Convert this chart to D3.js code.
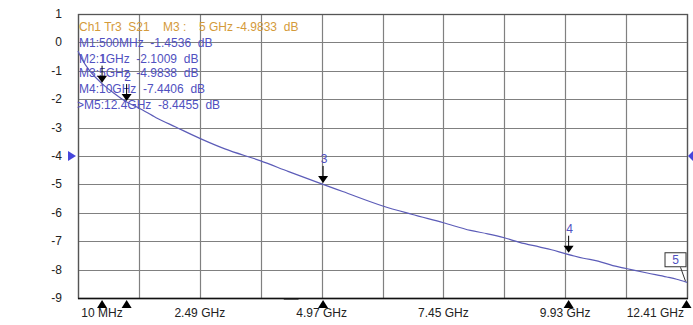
<!DOCTYPE html>
<html><head><meta charset="utf-8">
<script src="https://cdn.jsdelivr.net/npm/d3@7"></script>
<style>body{margin:0;background:#fff}svg{display:block}</style>
</head><body><svg id="c" width="693" height="325"></svg>
<script>
// ---- data ----
const freqGHz = [0.01,0.1,0.25,0.5,0.75,1.0,1.24,1.6,2.0,2.49,3.0,3.73,4.3,4.97,5.4,6.2,6.8,7.45,8.0,8.35,8.69,9.0,9.4,9.65,9.93,10.3,10.6,10.9,11.17,11.6,12.0,12.2,12.41];
const s21dB   = [-0.30,-0.62,-1.00,-1.45,-1.80,-2.10,-2.30,-2.65,-2.98,-3.38,-3.75,-4.17,-4.55,-4.98,-5.25,-5.75,-6.05,-6.35,-6.62,-6.74,-6.88,-7.04,-7.20,-7.30,-7.44,-7.60,-7.70,-7.86,-7.96,-8.12,-8.26,-8.34,-8.45];
const markerNames = ["1","2","3","4","5"];
const markerFreq  = [0.5,1,5,10,12.4];
const markerVal   = [-1.4536,-2.1009,-4.9838,-7.4406,-8.4455];
const yTicks = [1,0,-1,-2,-3,-4,-5,-6,-7,-8,-9];
const xGrid = d3.range(0,11).map(i => 0.01 + i*1.24);
const xTickLabels = ["10 MHz","2.49 GHz","4.97 GHz","7.45 GHz","9.93 GHz","12.41 GHz"];
const xTickIdx = [0,2,4,6,8,10];
const headerParts = ["Ch1 Tr3  S21","M3 :","5 GHz -4.9833  dB"];
const markerTexts = ["M1:500MHz  -1.4536  dB","M2:1GHz  -2.1009  dB","M3:5GHz  -4.9838  dB","M4:10GHz  -7.4406  dB",">M5:12.4GHz  -8.4455  dB"];
const refLevel = -4;

// ---- drawing ----
const svg = d3.select("#c");
const L=78, R=687, T=14, B=298;
const x = d3.scaleLinear().domain([0.01,12.41]).range([L,R]);
const y = d3.scaleLinear().domain([-9,1]).range([B,T]);
const font = "Arial, 'Liberation Sans', sans-serif";
const gridC = "#808080";

// grid
svg.append("g").selectAll("line").data(xGrid).join("line")
  .attr("x1",d=>Math.round(x(d))+0.5).attr("x2",d=>Math.round(x(d))+0.5)
  .attr("y1",T).attr("y2",B).attr("stroke",gridC).attr("stroke-width",1.2);
svg.append("g").selectAll("line").data(yTicks).join("line")
  .attr("x1",L).attr("x2",R)
  .attr("y1",d=>Math.round(y(d))+0.5).attr("y2",d=>Math.round(y(d))+0.5)
  .attr("stroke",gridC).attr("stroke-width",1.2);
// frame
svg.append("rect").attr("x",L+0.5).attr("y",T+0.5).attr("width",R-L).attr("height",B-T)
  .attr("fill","none").attr("stroke","#555").attr("stroke-width",1.3);
svg.append("line").attr("x1",L).attr("x2",R+1).attr("y1",B+0.5).attr("y2",B+0.5).attr("stroke","#111").attr("stroke-width",1.3);

// y labels
svg.append("g").selectAll("text").data(yTicks).join("text")
  .attr("x",62).attr("y",d=>y(d)+4).attr("text-anchor","end")
  .attr("font-family",font).attr("font-size",12).attr("fill","#222").text(d=>d);

// x labels
svg.append("g").selectAll("text").data(xTickIdx).join("text")
  .attr("x",(d,i)=> i===0 ? x(xGrid[d])+24 : (i===5 ? x(xGrid[d])-3 : x(xGrid[d])))
  .attr("y",317)
  .attr("text-anchor",(d,i)=> i===5 ? "end":"middle")
  .attr("font-family",font).attr("font-size",12).attr("fill","#222")
  .text((d,i)=>xTickLabels[i]);

// trace
const pts = freqGHz.map((f,i)=>[f,s21dB[i]]);
svg.append("path").datum(pts)
  .attr("d", d3.line().x(d=>x(d[0])).y(d=>y(d[1])).curve(d3.curveMonotoneX))
  .attr("fill","none").attr("stroke","#5c5cb8").attr("stroke-width",1.2);

// header texts
const hx = [79,163,199];
svg.append("g").selectAll("text").data(headerParts).join("text")
  .attr("x",(d,i)=>hx[i]).attr("y",31).attr("font-family",font).attr("font-size",12)
  .attr("fill","#d49a3a").style("white-space","pre").text(d=>d);
const mtY = [47,63,77,93,109];
svg.append("g").selectAll("text").data(markerTexts).join("text")
  .attr("x",(d,i)=> i===4 ? 77 : 79).attr("y",(d,i)=>mtY[i])
  .attr("font-family",font).attr("font-size",12).attr("fill","#5050c0")
  .style("white-space","pre").text(d=>d);

// markers (arrows above trace)
markerFreq.forEach((f,i)=>{
  const mx = x(f), my = y(markerVal[i]);
  if (i < 4) {
    const g = svg.append("g");
    g.append("line").attr("x1",mx).attr("x2",mx).attr("y1",my-18).attr("y2",my-6).attr("stroke","#000").attr("stroke-width",1);
    g.append("path").attr("d",`M${mx-5},${my-8}L${mx+5},${my-8}L${mx},${my-1}Z`).attr("fill","#000");
    g.append("text").attr("x",mx+1).attr("y",my-21).attr("text-anchor","middle")
      .attr("font-family",font).attr("font-size",12).attr("fill","#5050c0").text(markerNames[i]);
  } else {
    svg.append("line").attr("x1",mx-6).attr("y1",my-15).attr("x2",mx-1).attr("y2",my-1).attr("stroke","#333");
    svg.append("rect").attr("x",mx-21.5).attr("y",my-29.5).attr("width",21).attr("height",14)
      .attr("fill","#fff").attr("stroke","#333");
    svg.append("text").attr("x",mx-11).attr("y",my-18).attr("text-anchor","middle")
      .attr("font-family",font).attr("font-size",12).attr("fill","#5050c0").text(markerNames[i]);
  }
  // bottom triangle
  svg.append("path").attr("d",`M${mx-5},${B+10}L${mx+5},${B+10}L${mx},${B+2}Z`).attr("fill","#000");
});

// small dash under axis
svg.append("line").attr("x1",x(4.2)).attr("x2",x(4.5)).attr("y1",B+1.5).attr("y2",B+1.5).attr("stroke","#555");

// reference level triangles
const ry = y(refLevel);
svg.append("path").attr("d",`M68,${ry-5}L76,${ry}L68,${ry+5}Z`).attr("fill","#4646dc");
svg.append("path").attr("d",`M693,${ry-5}L688,${ry}L693,${ry+5}Z`).attr("fill","#4646dc");
</script></body></html>
